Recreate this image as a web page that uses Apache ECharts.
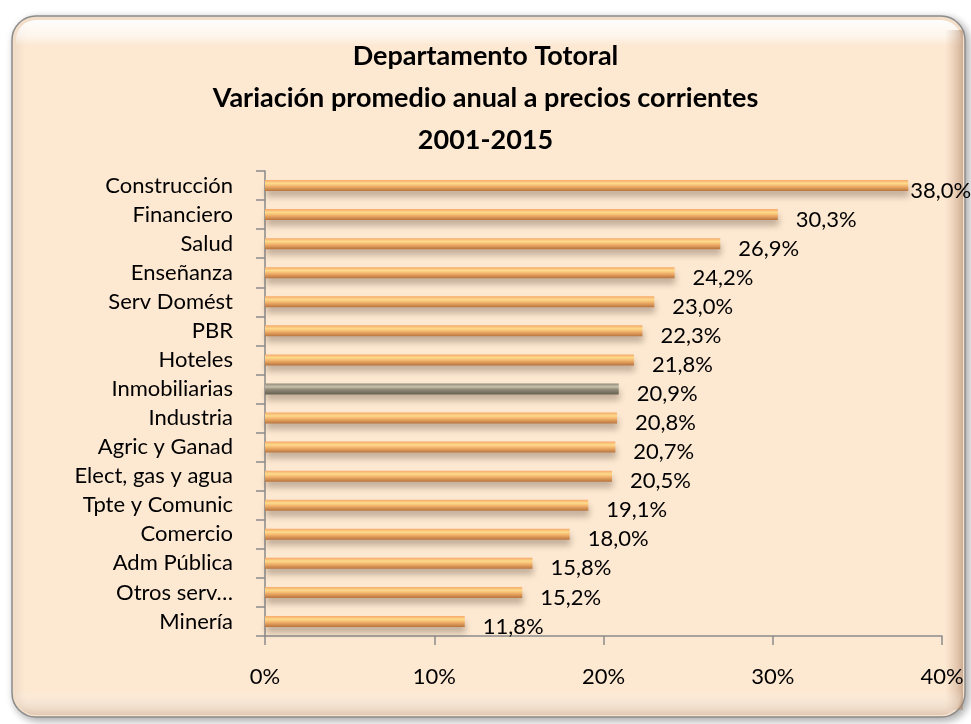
<!DOCTYPE html>
<html>
<head>
<meta charset="utf-8">
<style>
html,body{margin:0;padding:0;background:#fff;}
#c{width:971px;height:724px;}
</style>
<script src="https://cdn.jsdelivr.net/npm/echarts@6/dist/echarts.min.js"></script>
</head>
<body>
<div id="c"></div>
<script>
const titleLines = ['Departamento Totoral', 'Variación promedio anual a precios corrientes', '2001-2015'];
const categories = ['Construcción','Financiero','Salud','Enseñanza','Serv Domést','PBR','Hoteles','Inmobiliarias','Industria','Agric y Ganad','Elect, gas y agua','Tpte y Comunic','Comercio','Adm Pública','Otros serv…','Minería'];
const values = [38.0,30.3,26.9,24.2,23.0,22.3,21.8,20.9,20.8,20.7,20.5,19.1,18.0,15.8,15.2,11.8];
const highlighted = ['Inmobiliarias'];
const xTicks = [0,10,20,30,40];

const FONT = 'Lato, "Noto Sans", sans-serif';
const chart = echarts.init(document.getElementById('c'));

const orange = new echarts.graphic.LinearGradient(0,0,0,1,[
  {offset:0,color:'#F6A868'},{offset:0.3,color:'#FDDB8C'},{offset:0.55,color:'#F3B46C'},{offset:1,color:'#B9733E'}]);
const grey = new echarts.graphic.LinearGradient(0,0,0,1,[
  {offset:0,color:'#8E8A78'},{offset:0.3,color:'#C8C2AC'},{offset:0.55,color:'#8F8B78'},{offset:1,color:'#65604F'}]);

const data = values.map((v,i)=>({
  value:v,
  itemStyle:{color: highlighted.includes(categories[i]) ? grey : orange},
  label:{distance: i===0 ? 2 : 18}
}));

chart.setOption({
  animation:false,
  graphic:[
    {type:'rect',z:-10,shape:{x:12,y:16,width:953,height:701,r:24},
     style:{fill:'#FDE8D2',stroke:'#8c8c8c',lineWidth:1.5,shadowBlur:8,shadowOffsetX:3,shadowOffsetY:3,shadowColor:'rgba(0,0,0,0.35)'}},
    {type:'rect',z:-9,shape:{x:16,y:20,width:945,height:26,r:[20,20,0,0]},
     style:{fill:new echarts.graphic.LinearGradient(0,0,0,1,[{offset:0,color:'rgba(255,255,255,0.95)'},{offset:0.6,color:'rgba(255,255,255,0.6)'},{offset:1,color:'rgba(255,255,255,0)'}])}},
    {type:'rect',z:-9,shape:{x:945,y:30,width:18,height:680},
     style:{fill:new echarts.graphic.LinearGradient(0,0,1,0,[{offset:0,color:'rgba(200,160,130,0)'},{offset:1,color:'rgba(170,130,100,0.55)'}])}},
    {type:'rect',z:-9,shape:{x:16,y:690,width:945,height:25,r:[0,0,20,20]},
     style:{fill:new echarts.graphic.LinearGradient(0,0,0,1,[{offset:0,color:'rgba(255,255,255,0)'},{offset:1,color:'rgba(215,190,170,0.7)'}])}},
    {type:'text',z:10,left:'center',top:35,
     style:{text:titleLines.join('\n'),font:'bold 27px '+FONT,fill:'#000',textAlign:'center',lineHeight:42}}
  ],
  grid:{left:265,right:29,top:171,bottom:88,containLabel:false},
  xAxis:{
    type:'value',min:0,max:40,interval:10,
    axisLine:{show:true,lineStyle:{color:'#8a8a8a',width:1.5}},
    axisTick:{show:true,length:9,lineStyle:{color:'#8a8a8a',width:1.5}},
    splitLine:{show:false},
    axisLabel:{margin:30,fontFamily:FONT,fontSize:22,color:'#000',
      formatter:v=> xTicks.includes(v) ? v+'%' : ''}
  },
  yAxis:{
    type:'category',data:categories,inverse:true,
    axisLine:{show:true,lineStyle:{color:'#8a8a8a',width:1.5}},
    axisTick:{show:true,length:9,lineStyle:{color:'#8a8a8a',width:1.5}},
    axisLabel:{margin:32,fontFamily:FONT,fontSize:22,color:'#000'}
  },
  series:[{
    type:'bar',data:data,barWidth:11,
    itemStyle:{shadowBlur:6,shadowOffsetY:6,shadowOffsetX:1,shadowColor:'rgba(90,70,50,0.35)'},
    label:{show:true,position:'right',offset:[0,5],fontFamily:FONT,fontSize:22,color:'#000',
      formatter:p=>p.value.toFixed(1).replace('.',',')+'%'}
  }]
});
</script>
</body>
</html>
